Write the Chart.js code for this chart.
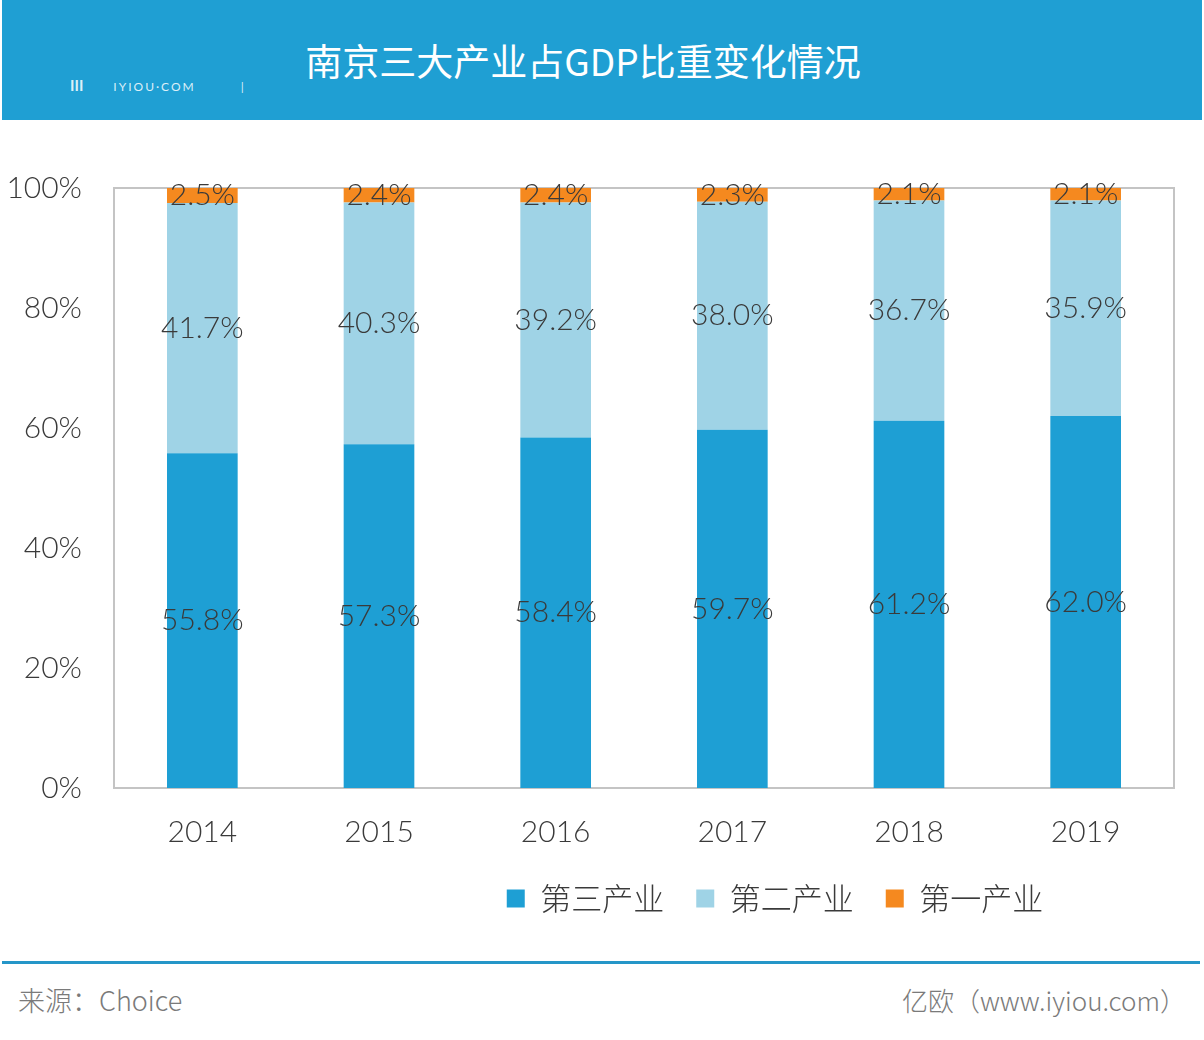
<!DOCTYPE html>
<html>
<head>
<meta charset="utf-8">
<script src="https://cdn.jsdelivr.net/npm/chart.js@4/dist/chart.umd.min.js"></script>
<style>
  body { margin: 0; width: 1204px; height: 1040px; background: #fff; position: relative; overflow: hidden;
         font-family: Lato, "Noto Sans CJK SC", sans-serif; }
  #header { position: absolute; left: 2px; top: 0; width: 1200px; height: 120px; background: #1f9fd3; }
  #title { position: absolute; left: 0; width: 1162px; top: 35px; text-align: center; color: #fff;
           font-family: "Noto Sans CJK SC", sans-serif; font-size: 37px; font-weight: 400; line-height: 50px; }
  #logo { position: absolute; left: 68px; top: 76px; color: rgba(255,255,255,0.85); font-size: 12px; letter-spacing: 2px; }
  #logo b { font-size: 15px; letter-spacing: 0; margin-right: 30px; }
  #box { position: absolute; left: 0; top: 130px; width: 1204px; height: 800px; }
  #rule { position: absolute; left: 2px; top: 961px; width: 1198px; height: 3px; background: #2596c8; }
  .foot { position: absolute; top: 983px; font-size: 27px; color: #7a7a7a; font-weight: 300;
          font-family: "Noto Sans CJK SC", sans-serif; line-height: 34px; }
</style>
</head>
<body>
<div id="header">
  <div id="logo"><b>III</b>IYIOU·COM<span style="margin-left:45px">|</span></div>
  <div id="title">南京三大产业占GDP比重变化情况</div>
</div>
<div id="box"><canvas id="chart"></canvas></div>
<div id="rule"></div>
<div class="foot" style="left:18px">来源：Choice</div>
<div class="foot" style="right:18px; font-size:26px">亿欧（www.iyiou.com）</div>

<script>
const years = ["2014", "2015", "2016", "2017", "2018", "2019"];
const tertiary = [55.8, 57.3, 58.4, 59.7, 61.2, 62.0];
const secondary = [41.7, 40.3, 39.2, 38.0, 36.7, 35.9];
const primary = [2.5, 2.4, 2.4, 2.3, 2.1, 2.1];
const seriesNames = ["第三产业", "第二产业", "第一产业"];
const yTicks = [0, 20, 40, 60, 80, 100];

const numFont = { family: 'Lato, "Noto Sans CJK SC", sans-serif', size: 30, weight: 300 };

// values printed in the middle of each bar segment
const segmentLabels = {
  id: "segmentLabels",
  afterDatasetsDraw(chart) {
    const ctx = chart.ctx;
    ctx.save();
    ctx.font = "300 30px Lato, 'Noto Sans CJK SC', sans-serif";
    ctx.fillStyle = "#3a3a3a";
    ctx.textAlign = "center";
    ctx.textBaseline = "middle";
    chart.data.datasets.forEach((ds, i) => {
      chart.getDatasetMeta(i).data.forEach((bar, j) => {
        const y = (bar.y + bar.base) / 2;
        ctx.fillText(ds.data[j].toFixed(1) + "%", bar.x, y);
      });
    });
    ctx.restore();
  }
};

// grey frame round the plot
const plotFrame = {
  id: "plotFrame",
  beforeDatasetsDraw(chart) {
    const a = chart.chartArea;
    const ctx = chart.ctx;
    ctx.save();
    ctx.strokeStyle = "#c4c4c4";
    ctx.lineWidth = 2;
    ctx.strokeRect(a.left, a.top, a.right - a.left, a.bottom - a.top);
    ctx.restore();
  }
};

// the legend sits right of centre in the original
const legendShift = {
  id: "legendShift",
  afterLayout(chart) {
    chart.legend.left += 188;
    chart.legend.right += 188;
  }
};

new Chart(document.getElementById("chart"), {
  type: "bar",
  data: {
    labels: years,
    datasets: [
      { label: seriesNames[0], data: tertiary, backgroundColor: "#1e9fd4" },
      { label: seriesNames[1], data: secondary, backgroundColor: "#9fd3e6" },
      { label: seriesNames[2], data: primary, backgroundColor: "#f5891f" }
    ]
  },
  options: {
    responsive: true,
    maintainAspectRatio: false,
    animation: false,
    layout: { padding: { left: 0, right: 30, top: 58, bottom: 6 } },
    datasets: { bar: { categoryPercentage: 1, barPercentage: 0.4 } },
    scales: {
      x: {
        stacked: true,
        grid: { display: false, drawTicks: false },
        border: { display: false },
        ticks: { color: "#3a3a3a", font: numFont, padding: 26 },
        afterFit: (scale) => { scale.height = 63; }
      },
      y: {
        stacked: true,
        min: 0,
        max: 100,
        afterBuildTicks: (scale) => { scale.ticks = yTicks.map(v => ({ value: v })); },
        grid: { display: false, drawTicks: false },
        border: { display: false },
        ticks: { color: "#3a3a3a", font: numFont, padding: 32, callback: (v) => v + "%" },
        afterFit: (scale) => { scale.width = 114; }
      }
    },
    plugins: {
      legend: {
        position: "bottom",
        labels: {
          boxWidth: 18,
          boxHeight: 18,
          padding: 32,
          color: "#3a3a3a",
          font: { family: '"Noto Sans CJK SC", sans-serif', size: 31, weight: 300 }
        }
      },
      tooltip: { enabled: false }
    }
  },
  plugins: [plotFrame, segmentLabels, legendShift]
});
</script>
</body>
</html>
